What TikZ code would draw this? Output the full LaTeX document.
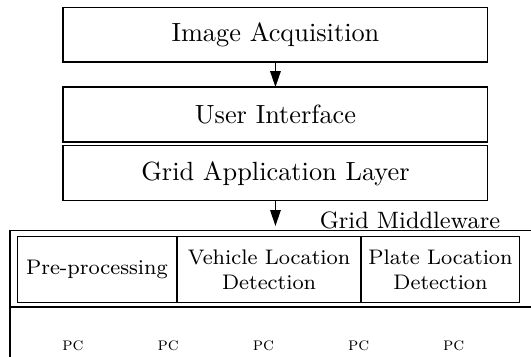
\documentclass[tikz,border=0pt]{standalone}
\usetikzlibrary{positioning, arrows.meta}

\begin{document}
\begin{tikzpicture}[
  >={Triangle[length=6pt,width=4pt]},
  layer/.style={draw, minimum width=5.674cm, minimum height=0.734cm, inner sep=0pt, outer sep=0pt},
  module/.style={draw, minimum height=0.875cm, inner sep=1pt, align=center, font=\footnotesize, anchor=north west},
  pcstyle/.style={font=\scriptsize}
]
\useasboundingbox (0,0) rectangle (7.09,4.766);
\clip (0,0) rectangle (7.09,4.766);
% Application layers
\node[layer] (acq) at (3.678,4.305) {Image Acquisition};
\node[layer, below=0.334cm of acq] (ui) {User Interface};
\node[layer, below=0.053cm of ui] (app) {Grid Application Layer};
% Arrows between layers
\draw[->] (acq) -- (ui);
\coordinate (mwtop) at (app.south |- 0,1.749);
\draw[->] (app) -- (mwtop);
\node[font=\small] (mwlabel) at (5.474,1.829) {Grid Middleware};
% Middleware frame (runs off the page)
\draw (0.1335,-0.5) -- (0.1335,1.682) -- (7.5,1.682);
\draw[thick] (0.1335,0.6675) -- (7.5,0.6675);
% Modules
\node[module, minimum width=2.12cm] (pre) at (0.227,1.609) {Pre-processing};
\node[module, minimum width=2.45cm, right=0pt of pre] (vld) {Vehicle Location\\Detection};
\node[module, minimum width=2.10cm, right=0pt of vld] (pld) {Plate Location\\Detection};
% Machines
\foreach \i in {0,...,4} {
  \node[pcstyle] (pc\i) at (0.975+\i*1.271, 0.147) {\textsc{pc}};
}
\end{tikzpicture}
\end{document}
